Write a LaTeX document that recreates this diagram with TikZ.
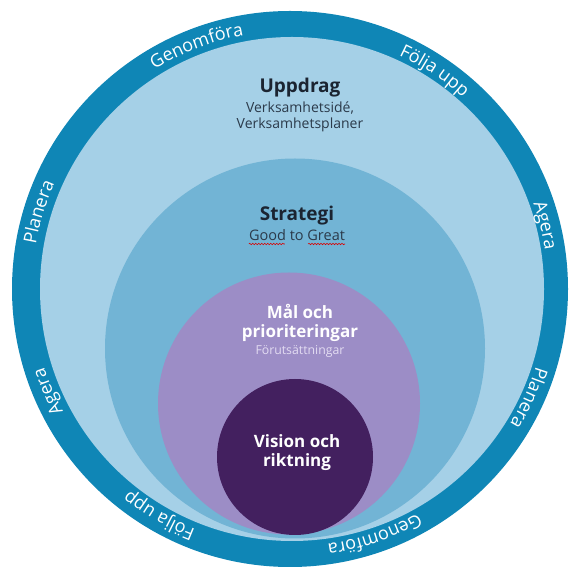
\documentclass[tikz,border=0pt]{standalone}
\usepackage{fontspec}
\setmainfont{Open Sans}
\usetikzlibrary{decorations.text,decorations.pathmorphing}
\definecolor{ringblue}{HTML}{0F86B6}
\definecolor{lightblue}{HTML}{A5D0E7}
\definecolor{midblue}{HTML}{72B4D5}
\definecolor{lavender}{HTML}{9C8DC6}
\definecolor{darkpurple}{HTML}{43205F}
\definecolor{textdark}{HTML}{1B2431}
\definecolor{subtext}{HTML}{2B3A4A}
\definecolor{forucol}{HTML}{E3DCF2}
\newcommand{\ringlabel}[2]{%
  \path[decorate,decoration={text along path,text align=center,
    text={|\color{white}\fontsize{18}{18}\selectfont|#2}}]
    ([shift={(O)}]#1+35:258) arc[start angle=#1+35,end angle=#1-35,radius=258];}
\tikzset{
  disc/.style={circle,inner sep=0pt,minimum size=#1},
  headline/.style={font=\bfseries\fontsize{19}{19}\selectfont,text=textdark,inner sep=0pt,anchor=base},
  subline/.style={font=\fontsize{14}{14}\selectfont,text=subtext,inner sep=0pt,anchor=base},
  whitehead/.style={font=\bfseries\fontsize{17}{17}\selectfont,text=white,inner sep=0pt,anchor=base},
  spell/.style={draw=red!85!black,line width=0.6pt,decorate,decoration={snake,amplitude=0.7pt,segment length=3pt}}
}
\begin{document}
\begin{tikzpicture}[x=1pt,y=1pt]
\useasboundingbox (0,0) rectangle (568,570);
\coordinate (O) at (290,281);
\node[disc=556pt,fill=ringblue] (ring) at (290,281) {};
\node[disc=504pt,fill=lightblue] (uppdragc) at (292,281) {};
\node[disc=380pt,fill=midblue] (strategic) at (295,221.5) {};
\node[disc=262pt,fill=lavender] (malc) at (289,166.5) {};
\node[disc=156pt,fill=darkpurple] (visionc) at (295,113) {};
% ring labels
\ringlabel{111}{Genomföra}
\ringlabel{56.5}{Följa upp}
\ringlabel{14}{Agera}
\ringlabel{-24.5}{Planera}
\ringlabel{-71}{Genomföra}
\ringlabel{-120}{Följa upp}
\ringlabel{-157}{Agera}
\ringlabel{163}{Planera}
% inner texts
\node[headline] (uppdrag) at (300,477) {Uppdrag};
\node[subline] (vs1) at (300,457) {Verksamhetsidé,};
\node[subline] (vs2) at (300,441) {Verksamhetsplaner};
\node[headline] (strategi) at (297,349) {Strategi};
\node[subline,font=\fontsize{14.5}{14.5}\selectfont] (gtg) at (297,329) {Good to Great};
\draw[spell] ([yshift=-3pt]gtg.base west) -- ([xshift=36pt,yshift=-3pt]gtg.base west);
\draw[spell] ([xshift=-37pt,yshift=-3pt]gtg.base east) -- ([yshift=-3pt]gtg.base east);
\node[whitehead] (mal) at (300,251) {Mål och};
\node[whitehead] (prio) at (300,232) {prioriteringar};
\node[subline,text=forucol,font=\fontsize{12.3}{12.3}\selectfont] (foru) at (300,215) {Förutsättningar};
\node[whitehead] (vision) at (297,122) {Vision och};
\node[whitehead] (riktning) at (297,103) {riktning};
\end{tikzpicture}
\end{document}
